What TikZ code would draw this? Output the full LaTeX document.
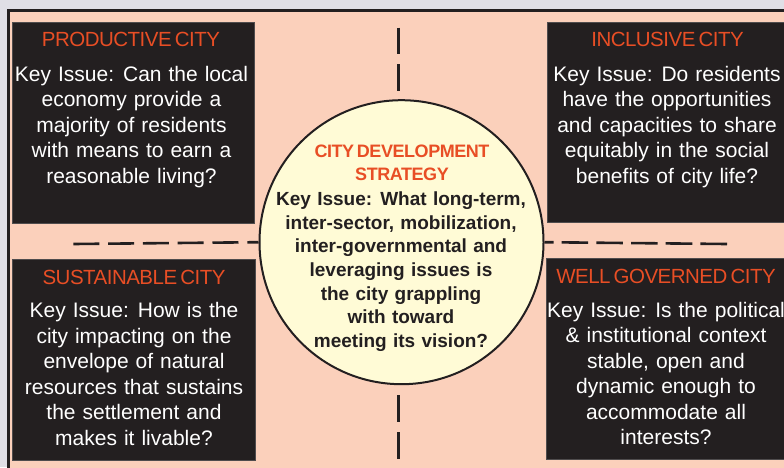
\documentclass[tikz,border=0pt]{standalone}
\usepackage{fontspec}
\setmainfont[WordSpace=1.2]{Liberation Sans}
\newfontfamily\titlefont[LetterSpace=-2.5,WordSpace=0.6]{Liberation Sans}
\definecolor{outbg}{HTML}{E0DFE6}
\definecolor{peach}{HTML}{FBD0BB}
\definecolor{darkbox}{HTML}{231F20}
\definecolor{orng}{HTML}{E84E25}
\definecolor{cream}{HTML}{FFFBD6}
\tikzset{
  darkpanel/.style={fill=darkbox, draw=darkbox!80!white, line width=0.6pt, inner sep=0pt},
  boxtitle/.style={text=orng, anchor=base, inner sep=0pt, font=\titlefont\fontsize{20.5}{24}\selectfont},
  boxbody/.style={text=white, anchor=north, inner sep=0pt, align=center, font=\fontsize{21}{25.5}\selectfont},
  circtitle/.style={text=orng, anchor=north, inner sep=0pt, align=center, font=\titlefont\bfseries\fontsize{18}{22.7}\selectfont},
  circbody/.style={text=darkbox, anchor=north, inner sep=0pt, align=center, font=\bfseries\fontsize{19}{23.7}\selectfont},
  dashline/.style={draw=darkbox, line width=2.6pt}
}
\begin{document}
\begin{tikzpicture}[x=1pt,y=-1pt]
\useasboundingbox (0,0) rectangle (784,467);
\fill[outbg] (0,0) rectangle (784,467);
\draw[draw=darkbox, fill=peach, line width=2.6pt] (8.7,10.3) rectangle (800,480);
% boxes
\node[darkpanel, minimum width=242pt, minimum height=201pt] (tl) at (133,122.5) {};
\node[darkpanel, minimum width=250pt, minimum height=200pt] (tr) at (672,122) {};
\node[darkpanel, minimum width=243pt, minimum height=201pt] (bl) at (133.5,359.5) {};
\node[darkpanel, minimum width=252pt, minimum height=201pt] (br) at (672,358.5) {};
% titles
\node[boxtitle] (tlt) at (131,46.7) {PRODUCTIVE CITY};
\node[boxtitle] (trt) at (667.5,46.7) {INCLUSIVE CITY};
\node[boxtitle] (blt) at (134,284) {SUSTAINABLE CITY};
\node[boxtitle] (brt) at (666,283.3) {WELL GOVERNED CITY};
% bodies
\node[boxbody] (tlb) at (131.5,66) {Key Issue: Can the local\\economy provide a\\majority of residents\\with means to earn a\\reasonable living?};
\node[boxbody] (trb) at (667,66) {Key Issue: Do residents\\have the opportunities\\and capacities to share\\equitably in the social\\benefits of city life?};
\node[boxbody] (blb) at (134,302.3) {Key Issue: How is the\\city impacting on the\\envelope of natural\\resources that sustains\\the settlement and\\makes it livable?};
\node[boxbody] (brb) at (666,302) {Key Issue: Is the political\\\& institutional context\\stable, open and\\dynamic enough to\\accommodate all\\interests?};
% dashed lines
\coordinate (lstart) at (73.3,244);
\coordinate (rstart) at (727,244);
\coordinate (vt1) at (398.7,27.7);
\coordinate (vt2) at (398.7,90.7);
\coordinate (vb1) at (398.7,395);
\coordinate (vb2) at (398.7,459);
% circle
\node[circle, draw=darkbox, fill=cream, line width=2pt, minimum size=284pt, inner sep=0pt] (c) at (401.5,242.2) {};
\draw[dashline, dash pattern=on 26pt off 8.8pt] (lstart) -- (c.west);
\draw[dashline, dash pattern=on 26.6pt off 8.1pt] (rstart) -- (c.east);
\draw[dashline, dash pattern=on 26.3pt off 10.3pt] (vt1) -- (vt2);
\draw[dashline, dash pattern=on 27.3pt off 10pt] (vb1) -- (vb2);
\node[circtitle] (ct) at (402,145) {CITY DEVELOPMENT\\STRATEGY};
\node[circbody] (cb) at (401,191.4) {Key Issue: What long-term,\\inter-sector, mobilization,\\inter-governmental and\\leveraging issues is\\the city grappling\\with toward\\meeting its vision?};
\end{tikzpicture}
\end{document}
